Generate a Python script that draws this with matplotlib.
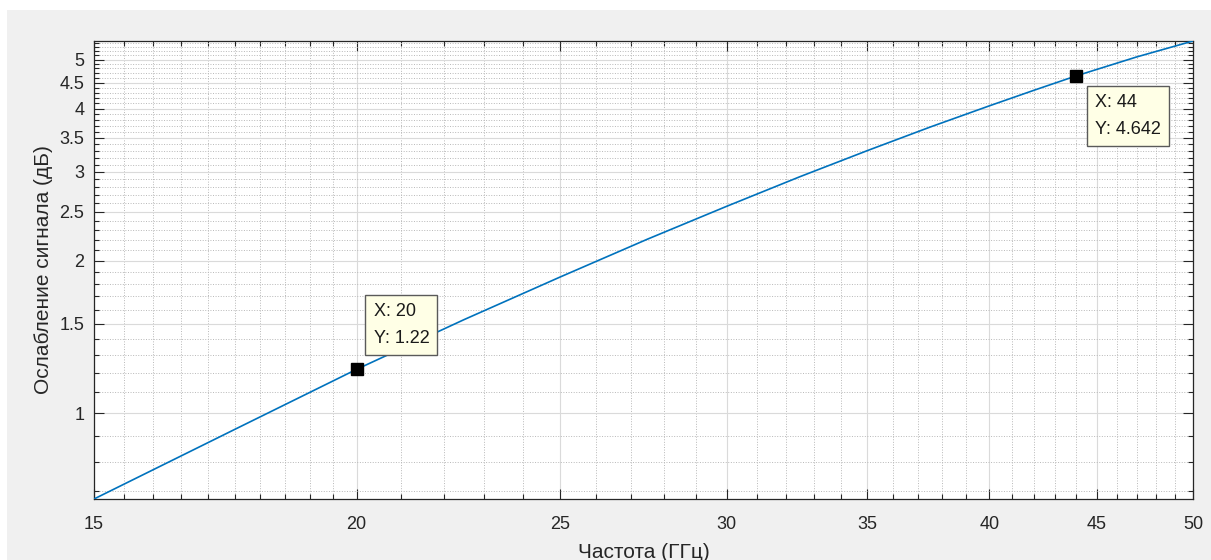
import numpy as np
import matplotlib
matplotlib.use('Agg')
import matplotlib.pyplot as plt
from matplotlib.patches import Rectangle
from matplotlib.ticker import FixedLocator, FixedFormatter, NullFormatter

plt.rcParams['font.family'] = ['Liberation Sans', 'DejaVu Sans']

# Затухание сигнала в зависимости от частоты
freq = [15, 17.5, 20, 22.5, 25, 27.5, 30, 32.5, 35, 37.5, 40, 42, 44, 47, 50]
atten = [0.676, 0.928, 1.22, 1.530, 1.858, 2.206, 2.563, 2.932, 3.303, 3.678,
         4.049, 4.346, 4.642, 5.058, 5.44]

# Точки с подсказками (индексы в массивах выше)
tip_idx = [2, 12]

x_ticks = [15, 20, 25, 30, 35, 40, 45, 50]
x_labels = ['15', '20', '25', '30', '35', '40', '45', '50']
x_minor = [15.5, 16, 16.5, 17, 17.5, 18, 18.5, 19, 19.5] + \
          [v for v in range(21, 50) if v % 5 != 0]
y_ticks = [1, 1.5, 2, 2.5, 3, 3.5, 4, 4.5, 5]
y_labels = ['1', '1.5', '2', '2.5', '3', '3.5', '4', '4.5', '5']
y_minor = [0.7, 0.8, 0.9] + [round(v, 1) for v in np.arange(1.1, 5.45, 0.1)
                             if abs(v * 2 - round(v * 2)) > 1e-6]

ink = '#262626'

fig = plt.figure(figsize=(12.11, 5.6), dpi=100)
fig.patch.set_facecolor('white')
fig.patches.append(Rectangle((7 / 1211, 0), 1, 550 / 560, transform=fig.transFigure,
                             facecolor='#f0f0f0', edgecolor='none', zorder=-10))

ax = fig.add_axes([94 / 1211, 61 / 560, 1099 / 1211, 458 / 560])
ax.set_facecolor('white')
ax.set_xscale('log')
ax.set_yscale('log')

ax.plot(freq, atten, color='#0072BD', lw=1.2, zorder=3)

tx = [freq[i] for i in tip_idx]
ty = [atten[i] for i in tip_idx]
ax.plot(tx, ty, 's', color='black', ms=8.5, zorder=5)

offsets = [(17, 66), (19, -18)]
for x, y, off in zip(tx, ty, offsets):
    ax.annotate(f'X: {x:g}\nY: {y:g}', xy=(x, y), xytext=off, textcoords='offset pixels',
                ha='left', va='top', fontsize=13, color='#1a1a1a', linespacing=1.75,
                bbox=dict(boxstyle='square,pad=0.45', facecolor='#ffffe6',
                          edgecolor='#5a5a5a', lw=1.0), zorder=6)

ax.set_xlim(15, 50)
ax.set_ylim(atten[0], atten[-1])

ax.xaxis.set_major_locator(FixedLocator(x_ticks))
ax.xaxis.set_major_formatter(FixedFormatter(x_labels))
ax.xaxis.set_minor_locator(FixedLocator(x_minor))
ax.xaxis.set_minor_formatter(NullFormatter())
ax.yaxis.set_major_locator(FixedLocator(y_ticks))
ax.yaxis.set_major_formatter(FixedFormatter(y_labels))
ax.yaxis.set_minor_locator(FixedLocator(y_minor))
ax.yaxis.set_minor_formatter(NullFormatter())

ax.grid(True, which='major', color='#dadada', lw=0.8, ls='-', zorder=0)
ax.grid(True, which='minor', color='#b8b8b8', lw=0.7, ls=':', zorder=0)
ax.set_axisbelow(True)

ax.tick_params(which='both', direction='in', top=True, right=True, colors=ink,
               labelsize=13, width=0.8)
ax.tick_params(which='major', length=7)
ax.tick_params(which='minor', length=3.5)
ax.tick_params(axis='x', which='major', pad=12)
ax.tick_params(axis='y', which='major', pad=7)
for s in ax.spines.values():
    s.set_color(ink)
    s.set_linewidth(0.9)

ax.set_xlabel('Частота (ГГц)', fontsize=15, color=ink)
ax.set_ylabel('Ослабление сигнала (дБ)', fontsize=15, color=ink)
ax.xaxis.set_label_coords(0.5, -0.097)
ax.xaxis.label.set_va('top')
ax.yaxis.set_label_coords(-0.037, 0.5)

fig.savefig('out.png', dpi=100)
